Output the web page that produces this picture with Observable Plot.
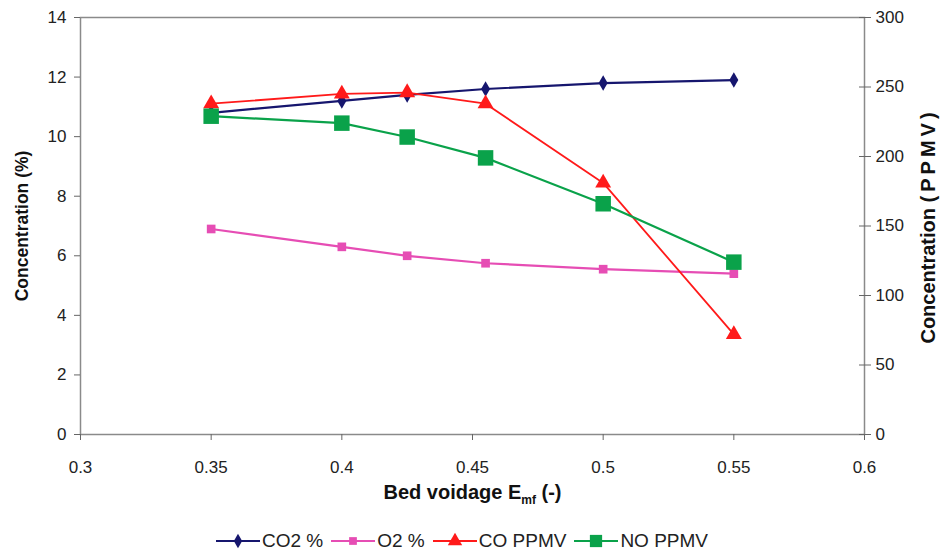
<!DOCTYPE html>
<html>
<head>
<meta charset="utf-8">
<script src="https://cdn.jsdelivr.net/npm/d3@7"></script>
<script src="https://cdn.jsdelivr.net/npm/@observablehq/plot@0.6"></script>
<style>
  html, body { margin: 0; padding: 0; background: #fff; }
  body { width: 948px; height: 552px; overflow: hidden; font-family: "Liberation Sans", Arial, sans-serif; }
  #legend { display: flex; justify-content: center; align-items: center; font-size: 19px; color: #222; margin-top: 15px; padding-right: 24px; }
  #legend .item { display: flex; align-items: center; margin: 0 4px; }
  #legend svg { display: block; margin-right: 2px; }
</style>
</head>
<body>
<div id="chart"></div>
<div id="legend"></div>
<script>
// ---- data ----
const voidage = [0.35, 0.4, 0.425, 0.455, 0.5, 0.55];
const co2Pct = [10.8, 11.2, 11.4, 11.6, 11.8, 11.9];
const o2Pct = [6.9, 6.3, 6.0, 5.75, 5.55, 5.4];
const coPpmv = [238, 245, 246, 238, 181, 72];
const noPpmv = [229, 224, 214, 199, 166, 124];
const leftTicks = [0, 2, 4, 6, 8, 10, 12, 14];
const rightTicks = [0, 50, 100, 150, 200, 250, 300];
const xTicks = [0.3, 0.35, 0.4, 0.45, 0.5, 0.55, 0.6];

const seriesNames = ["CO2 %", "O2 %", "CO PPMV", "NO PPMV"];
const seriesColors = ["#16166e", "#e64db4", "#ff1a1a", "#0aa24a"];
const seriesSymbols = ["diamond", "square", "triangle", "square"];
const seriesSizes = [70, 75, 110, 240];
const seriesWidths = [2.2, 2.2, 1.8, 2.2];

const LEFT_MAX = 14, RIGHT_MAX = 300;
const toLeft = v => v * LEFT_MAX / RIGHT_MAX;

const rows = [];
voidage.forEach((x, i) => {
  rows.push({x, y: co2Pct[i], s: 0});
  rows.push({x, y: o2Pct[i], s: 1});
  rows.push({x, y: toLeft(coPpmv[i]), s: 2});
  rows.push({x, y: toLeft(noPpmv[i]), s: 3});
});

const font = '"Liberation Sans", Arial, sans-serif';
const marks = [
  Plot.frame({stroke: "#8a8a8a", strokeWidth: 1.5}),
  Plot.axisY({ticks: leftTicks, tickSize: 6, tickPadding: 8, fontSize: 17, label: null, stroke: "#666", color: "#222"}),
  Plot.axisY({anchor: "right", ticks: rightTicks.map(toLeft), tickFormat: v => String(Math.round(v * RIGHT_MAX / LEFT_MAX)), tickSize: 6, tickPadding: 5, fontSize: 17, label: null, stroke: "#666", color: "#222"}),
  Plot.axisY({anchor: "right", ticks: rightTicks.map(toLeft), tickFormat: () => "", tickSize: -6, label: null, stroke: "#666"}),
  Plot.axisX({ticks: xTicks, tickFormat: d => String(d), tickSize: 6, tickPadding: 20, fontSize: 17, label: null, stroke: "#666", color: "#222"}),
  Plot.text(["Concentration (%)"], {frameAnchor: "left", textAnchor: "middle", rotate: -90, dx: -58, fontSize: 17.5, fontWeight: "bold", fill: "#111"}),
  Plot.text(["Concentration "], {frameAnchor: "right", textAnchor: "middle", rotate: -90, dx: 64, fontSize: 20, fontWeight: "bold", fill: "#111", className: "ylabel2"}),
  Plot.text(["Bed voidage E"], {frameAnchor: "bottom", dy: 64, fontSize: 20, fontWeight: "bold", fill: "#111", className: "xlabel"})
];
seriesNames.forEach((name, k) => {
  const d = rows.filter(r => r.s === k);
  marks.push(Plot.line(d, {x: "x", y: "y", stroke: seriesColors[k], strokeWidth: seriesWidths[k]}));
});
seriesNames.forEach((name, k) => {
  const d = rows.filter(r => r.s === k);
  marks.push(Plot.dot(d, {x: "x", y: "y", symbol: () => seriesSymbols[k], fill: seriesColors[k], stroke: "none", r: Math.sqrt(seriesSizes[k] / Math.PI)}));
});

const chart = Plot.plot({
  width: 948,
  height: 515,
  marginLeft: 80,
  marginRight: 84,
  marginTop: 17,
  marginBottom: 81,
  style: {fontFamily: font, background: "#fff"},
  x: {domain: [0.3, 0.6]},
  y: {domain: [0, LEFT_MAX]},
  marks
});
document.getElementById("chart").appendChild(chart);

// subscript "mf" on the x label
d3.select(chart).selectAll(".xlabel text").each(function() {
  const t = d3.select(this);
  t.append("tspan").attr("font-size", 12).attr("dy", 5).text("mf");
  t.append("tspan").attr("dy", -5).text(" (-)");
});
// spaced "(PPMV)" on the right label
d3.select(chart).selectAll(".ylabel2 text").each(function() {
  d3.select(this).append("tspan").attr("letter-spacing", 4).text("(PPMV)");
});

// legend
const legend = d3.select("#legend");
const legendSizes = [60, 60, 90, 150];
seriesNames.forEach((name, k) => {
  const item = legend.append("div").attr("class", "item");
  const s = item.append("svg").attr("width", 44).attr("height", 18);
  s.append("line").attr("x1", 0).attr("x2", 44).attr("y1", 9).attr("y2", 9).attr("stroke", seriesColors[k]).attr("stroke-width", 2);
  const sym = {diamond: d3.symbolDiamond, square: d3.symbolSquare, triangle: d3.symbolTriangle}[seriesSymbols[k]];
  s.append("path").attr("transform", "translate(22,9)").attr("d", d3.symbol(sym, legendSizes[k])()).attr("fill", seriesColors[k]);
  item.append("span").text(name);
});
</script>
</body>
</html>
